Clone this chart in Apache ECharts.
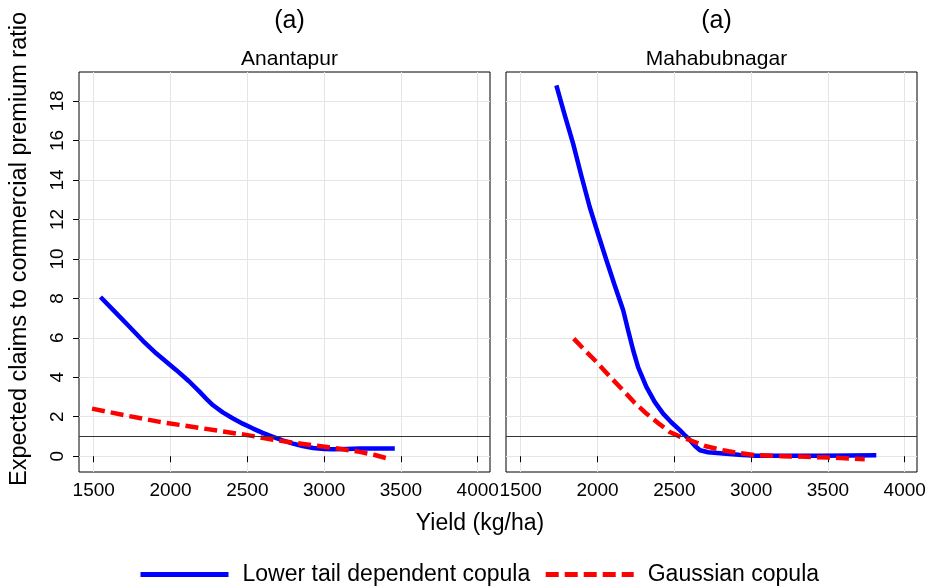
<!DOCTYPE html>
<html><head><meta charset="utf-8">
<script src="https://cdn.jsdelivr.net/npm/echarts@6/dist/echarts.min.js"></script>
<style>html,body{margin:0;padding:0;background:#fff}#c{width:931px;height:587px}</style>
</head><body><div id="c"></div>
<script>
// ---- data ----
const panelTitles = ['(a)', '(a)'];
const districts = ['Anantapur', 'Mahabubnagar'];
const xTicks = [1500, 2000, 2500, 3000, 3500, 4000];
const yTicks = [0, 2, 4, 6, 8, 10, 12, 14, 16, 18];
const seriesNames = ['Lower tail dependent copula', 'Gaussian copula'];
const xTitle = 'Yield (kg/ha)';
const yTitle = 'Expected claims to commercial premium ratio';
const referenceRatio = 1;

// Anantapur
const anaLtdYield = [1544, 1640, 1734, 1820, 1908, 2038, 2120, 2190, 2240, 2277, 2340, 2407, 2470, 2537, 2600, 2667, 2730, 2797, 2860, 2928, 3000, 3058, 3150, 3232, 3350, 3460];
const anaLtdRatio = [8.07, 7.30, 6.55, 5.85, 5.20, 4.36, 3.80, 3.26, 2.85, 2.58, 2.22, 1.91, 1.65, 1.40, 1.18, 0.98, 0.80, 0.64, 0.52, 0.42, 0.36, 0.35, 0.37, 0.39, 0.39, 0.39];
const anaGauYield = [1489, 1700, 1930, 2150, 2364, 2530, 2690, 2850, 3016, 3130, 3232, 3330, 3416];
const anaGauRatio = [2.41, 2.08, 1.74, 1.48, 1.23, 1.03, 0.81, 0.63, 0.47, 0.34, 0.22, 0.06, -0.12];

// Mahabubnagar
const mahLtdYield = [1732, 1786, 1841, 1895, 1949, 2004, 2058, 2112, 2167, 2199, 2232, 2264, 2318, 2372, 2427, 2480, 2536, 2570, 2602, 2635, 2667, 2720, 2817, 2920, 3034, 3250, 3468, 3650, 3815];
const mahLtdRatio = [18.79, 17.30, 15.84, 14.20, 12.63, 11.25, 9.93, 8.65, 7.40, 6.38, 5.37, 4.52, 3.51, 2.75, 2.16, 1.72, 1.32, 1.05, 0.81, 0.52, 0.30, 0.20, 0.14, 0.07, 0.02, 0.02, 0.02, 0.04, 0.05];
const mahGauYield = [1845, 1920, 1993, 2080, 2166, 2240, 2318, 2400, 2470, 2540, 2602, 2700, 2817, 2920, 3034, 3200, 3360, 3550, 3740];
const mahGauRatio = [5.96, 5.35, 4.78, 4.04, 3.34, 2.72, 2.16, 1.65, 1.23, 0.98, 0.81, 0.52, 0.30, 0.16, 0.05, 0.00, -0.03, -0.08, -0.15];

// ---- chart ----
const FONT = "'Liberation Sans', Arial, Helvetica, sans-serif";
const pair = (xs, ys) => xs.map((x, i) => [x, ys[i]]);
const X_MIN = 1404, X_MAX = 4080, Y_MIN = -0.8, Y_MAX = 19.47;
const grids = [
  { left: 79, top: 72, width: 411, height: 400 },
  { left: 506, top: 72, width: 411, height: 400 }
];
const panelCenters = grids.map(g => g.left + g.width / 2);
const plain = v => String(v);

function xAxis(i) {
  return {
    type: 'value', gridIndex: i, min: X_MIN, max: X_MAX,
    axisLine: { show: false },
    axisTick: { show: true, length: 6, inside: false, customValues: xTicks, lineStyle: { color: '#000', width: 1 } },
    axisLabel: { customValues: xTicks, formatter: plain, margin: 9, fontSize: 19, color: '#000', fontFamily: FONT, showMinLabel: true, showMaxLabel: true },
    splitLine: { show: true, lineStyle: { color: '#e5e5e5', width: 1 } }
  };
}
function yAxis(i) {
  return {
    type: 'value', gridIndex: i, min: Y_MIN, max: Y_MAX,
    axisLine: { show: false },
    axisTick: { show: i === 0, length: 6, customValues: yTicks, lineStyle: { color: '#000', width: 1 } },
    axisLabel: { show: i === 0, customValues: yTicks, formatter: plain, rotate: 90, margin: 12, fontSize: 19, color: '#000', fontFamily: FONT },
    splitLine: { show: true, lineStyle: { color: '#e5e5e5', width: 1 } }
  };
}
const blueStyle = { color: '#0000ff', width: 4.5, type: 'solid', cap: 'butt', join: 'round' };
const redStyle = { color: '#ff0000', width: 4.5, type: [13, 6], cap: 'butt', join: 'round' };
function lineSeries(name, i, data, style, withRef) {
  const s = {
    name, type: 'line', xAxisIndex: i, yAxisIndex: i, data,
    showSymbol: false, symbol: 'none', smooth: false,
    lineStyle: style, itemStyle: { color: style.color }, animation: false, z: name === seriesNames[1] ? 3 : 2
  };
  if (withRef) {
    s.markLine = {
      silent: true, symbol: 'none', animation: false,
      label: { show: false },
      lineStyle: { color: '#333', width: 1, type: 'solid' },
      data: [{ yAxis: referenceRatio }]
    };
  }
  return s;
}

const titles = [];
panelCenters.forEach((cx, i) => {
  titles.push({ text: panelTitles[i], left: cx, top: 4, textAlign: 'center',
    textStyle: { fontSize: 25, fontWeight: 'normal', color: '#000', fontFamily: FONT } });
  titles.push({ text: districts[i], left: cx, top: 44, textAlign: 'center',
    textStyle: { fontSize: 21, fontWeight: 'normal', color: '#000', fontFamily: FONT } });
});

const option = {
  backgroundColor: '#fff',
  animation: false,
  title: titles,
  grid: grids.map(g => Object.assign({ show: true, borderColor: '#000', borderWidth: 1, backgroundColor: 'transparent', containLabel: false }, g)),
  xAxis: [xAxis(0), xAxis(1)],
  yAxis: [yAxis(0), yAxis(1)],
  legend: {
    left: 133, top: 558, itemWidth: 88, itemHeight: 22, itemGap: 13,
    data: seriesNames,
    itemStyle: { opacity: 0 },
    lineStyle: { width: 5 },
    textStyle: { fontSize: 23, color: '#000', fontFamily: FONT, padding: [0, 0, 0, 9] }
  },
  graphic: [
    { type: 'text', x: 20, y: 249, rotation: Math.PI / 2,
      style: { text: yTitle, fontSize: 23.5, fontFamily: FONT, fill: '#000', align: 'center', verticalAlign: 'middle' } },
    { type: 'text', x: 480, y: 524,
      style: { text: xTitle, fontSize: 23, fontFamily: FONT, fill: '#000', align: 'center', verticalAlign: 'middle' } }
  ],
  series: [
    lineSeries(seriesNames[0], 0, pair(anaLtdYield, anaLtdRatio), blueStyle, true),
    lineSeries(seriesNames[1], 0, pair(anaGauYield, anaGauRatio), redStyle, false),
    lineSeries(seriesNames[0], 1, pair(mahLtdYield, mahLtdRatio), blueStyle, true),
    lineSeries(seriesNames[1], 1, pair(mahGauYield, mahGauRatio), redStyle, false)
  ]
};
const chart = echarts.init(document.getElementById('c'), null, { renderer: 'canvas' });
chart.setOption(option);
</script>
</body></html>
